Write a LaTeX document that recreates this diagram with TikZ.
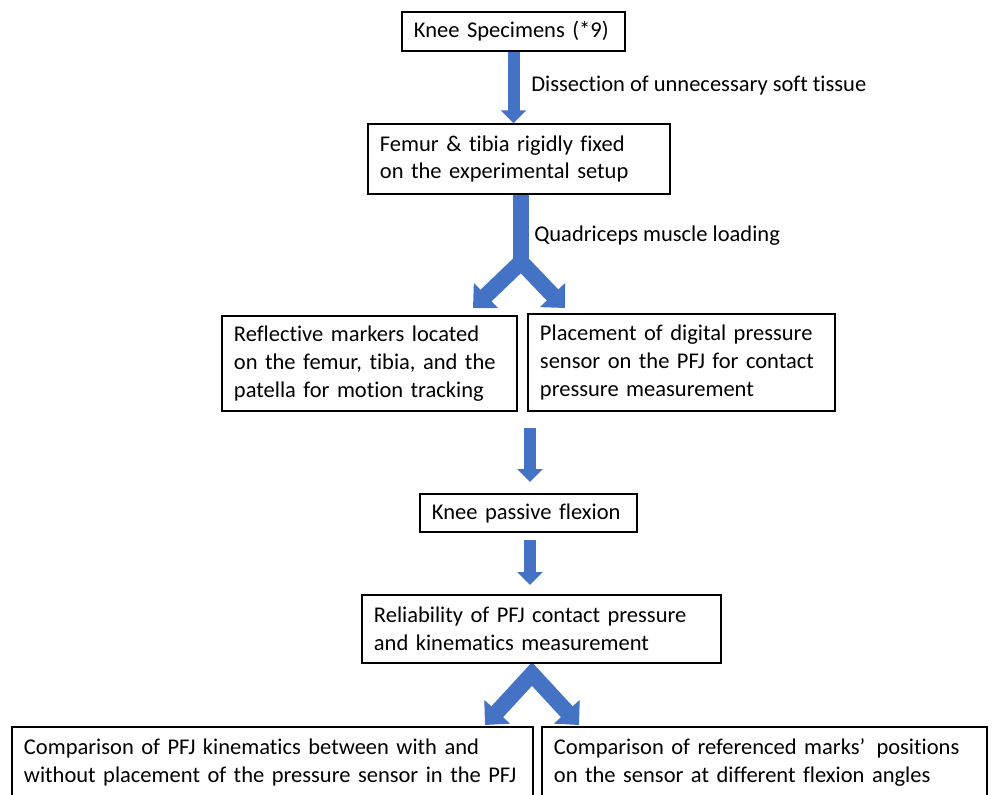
\documentclass[tikz,border=0pt]{standalone}
\usepackage{fontspec}
\setmainfont{Carlito}[Ligatures=NoCommon]
\usetikzlibrary{arrows.meta,backgrounds,calc}
\definecolor{arrowblue}{HTML}{4472C4}

\begin{document}
\begin{tikzpicture}[x=0.025cm,y=-0.025cm]

\tikzset{stepbox/.style = {draw, line width=1pt, fill=white, align=left, inner xsep=0.3cm, inner ysep=0pt, font=\fontsize{16}{19.9}\selectfont}}
\tikzset{steplabel/.style = {anchor=west, inner sep=0pt, font=\fontsize{16}{19.9}\selectfont}}
\tikzset{blockarrow/.style = {draw=arrowblue, line width=0.3cm, -{Triangle[width=0.625cm,length=0.325cm]}}}
\tikzset{fork/.style = {draw=arrowblue, line width=0.4cm, line join=miter, {Triangle[width=0.85cm,length=0.45cm]}-{Triangle[width=0.85cm,length=0.45cm]}}}

\useasboundingbox (0,0) rectangle (997,794);
\clip (0,0) rectangle (997,794);

% boxes
\node[stepbox, text width=4.975cm, minimum height=0.975cm] (spec) at (513.5,31.5) {Knee Specimens (*9)};
\node[stepbox, text width=6.95cm, minimum height=1.75cm] (fix) at (519,159) {Femur \& tibia rigidly fixed\\on the experimental setup};
\node[stepbox, text width=6.775cm, minimum height=2.375cm] (markers) at (369.5,363.5) {Reflective markers located\\on the femur, tibia, and the\\patella for motion tracking};
\node[stepbox, text width=7.075cm, minimum height=2.425cm] (sensor) at (681.5,362.5) {Placement of digital pressure\\sensor on the PFJ for contact\\pressure measurement};
\node[stepbox, text width=4.825cm, minimum height=0.95cm] (flex) at (528.5,513) {Knee passive flexion};
\node[stepbox, text width=8.375cm, minimum height=1.7cm] (reliab) at (541.5,629) {Reliability of PFJ contact pressure\\and kinematics measurement};
\node[stepbox, text width=12.425cm, minimum height=1.75cm] (cmpkin) at (272.5,762) {Comparison of PFJ kinematics between with and\\without placement of the pressure sensor in the PFJ};
\node[stepbox, text width=10.525cm, minimum height=1.75cm] (cmpmark) at (764.5,762) {Comparison of referenced marks'\, positions\\on the sensor at different flexion angles};

% labels
\node[steplabel] (dissect) at (531,86) {Dissection of unnecessary soft tissue};
\node[steplabel] (quad) at (534,236) {Quadriceps muscle loading};

% free ends of the arrows
\coordinate (yjoin) at (521,262);
\coordinate (yleft) at (473,308);
\coordinate (yright) at (565,308);
\coordinate (rowout) at (530,428);
\coordinate (flexin) at (530,482);
\coordinate (flexout) at (530,540);
\coordinate (relin) at (530,585);
\coordinate (vapex) at (532,674);
\coordinate (vleft) at (485,725);
\coordinate (vright) at (579,725);

\begin{scope}[on background layer]
\draw[blockarrow] (spec.south) -- (spec.south |- fix.north);
\draw[draw=arrowblue, line width=0.4cm] (fix.south -| yjoin) -- (yjoin);
\draw[fork] (yleft) -- (yjoin) -- (yright);
\foreach \from/\to in {rowout/flexin, flexout/relin}
\draw[blockarrow] (\from) -- (\to);
\draw[fork] (vleft) -- (vapex) -- (vright);
\end{scope}

\end{tikzpicture}
\end{document}
